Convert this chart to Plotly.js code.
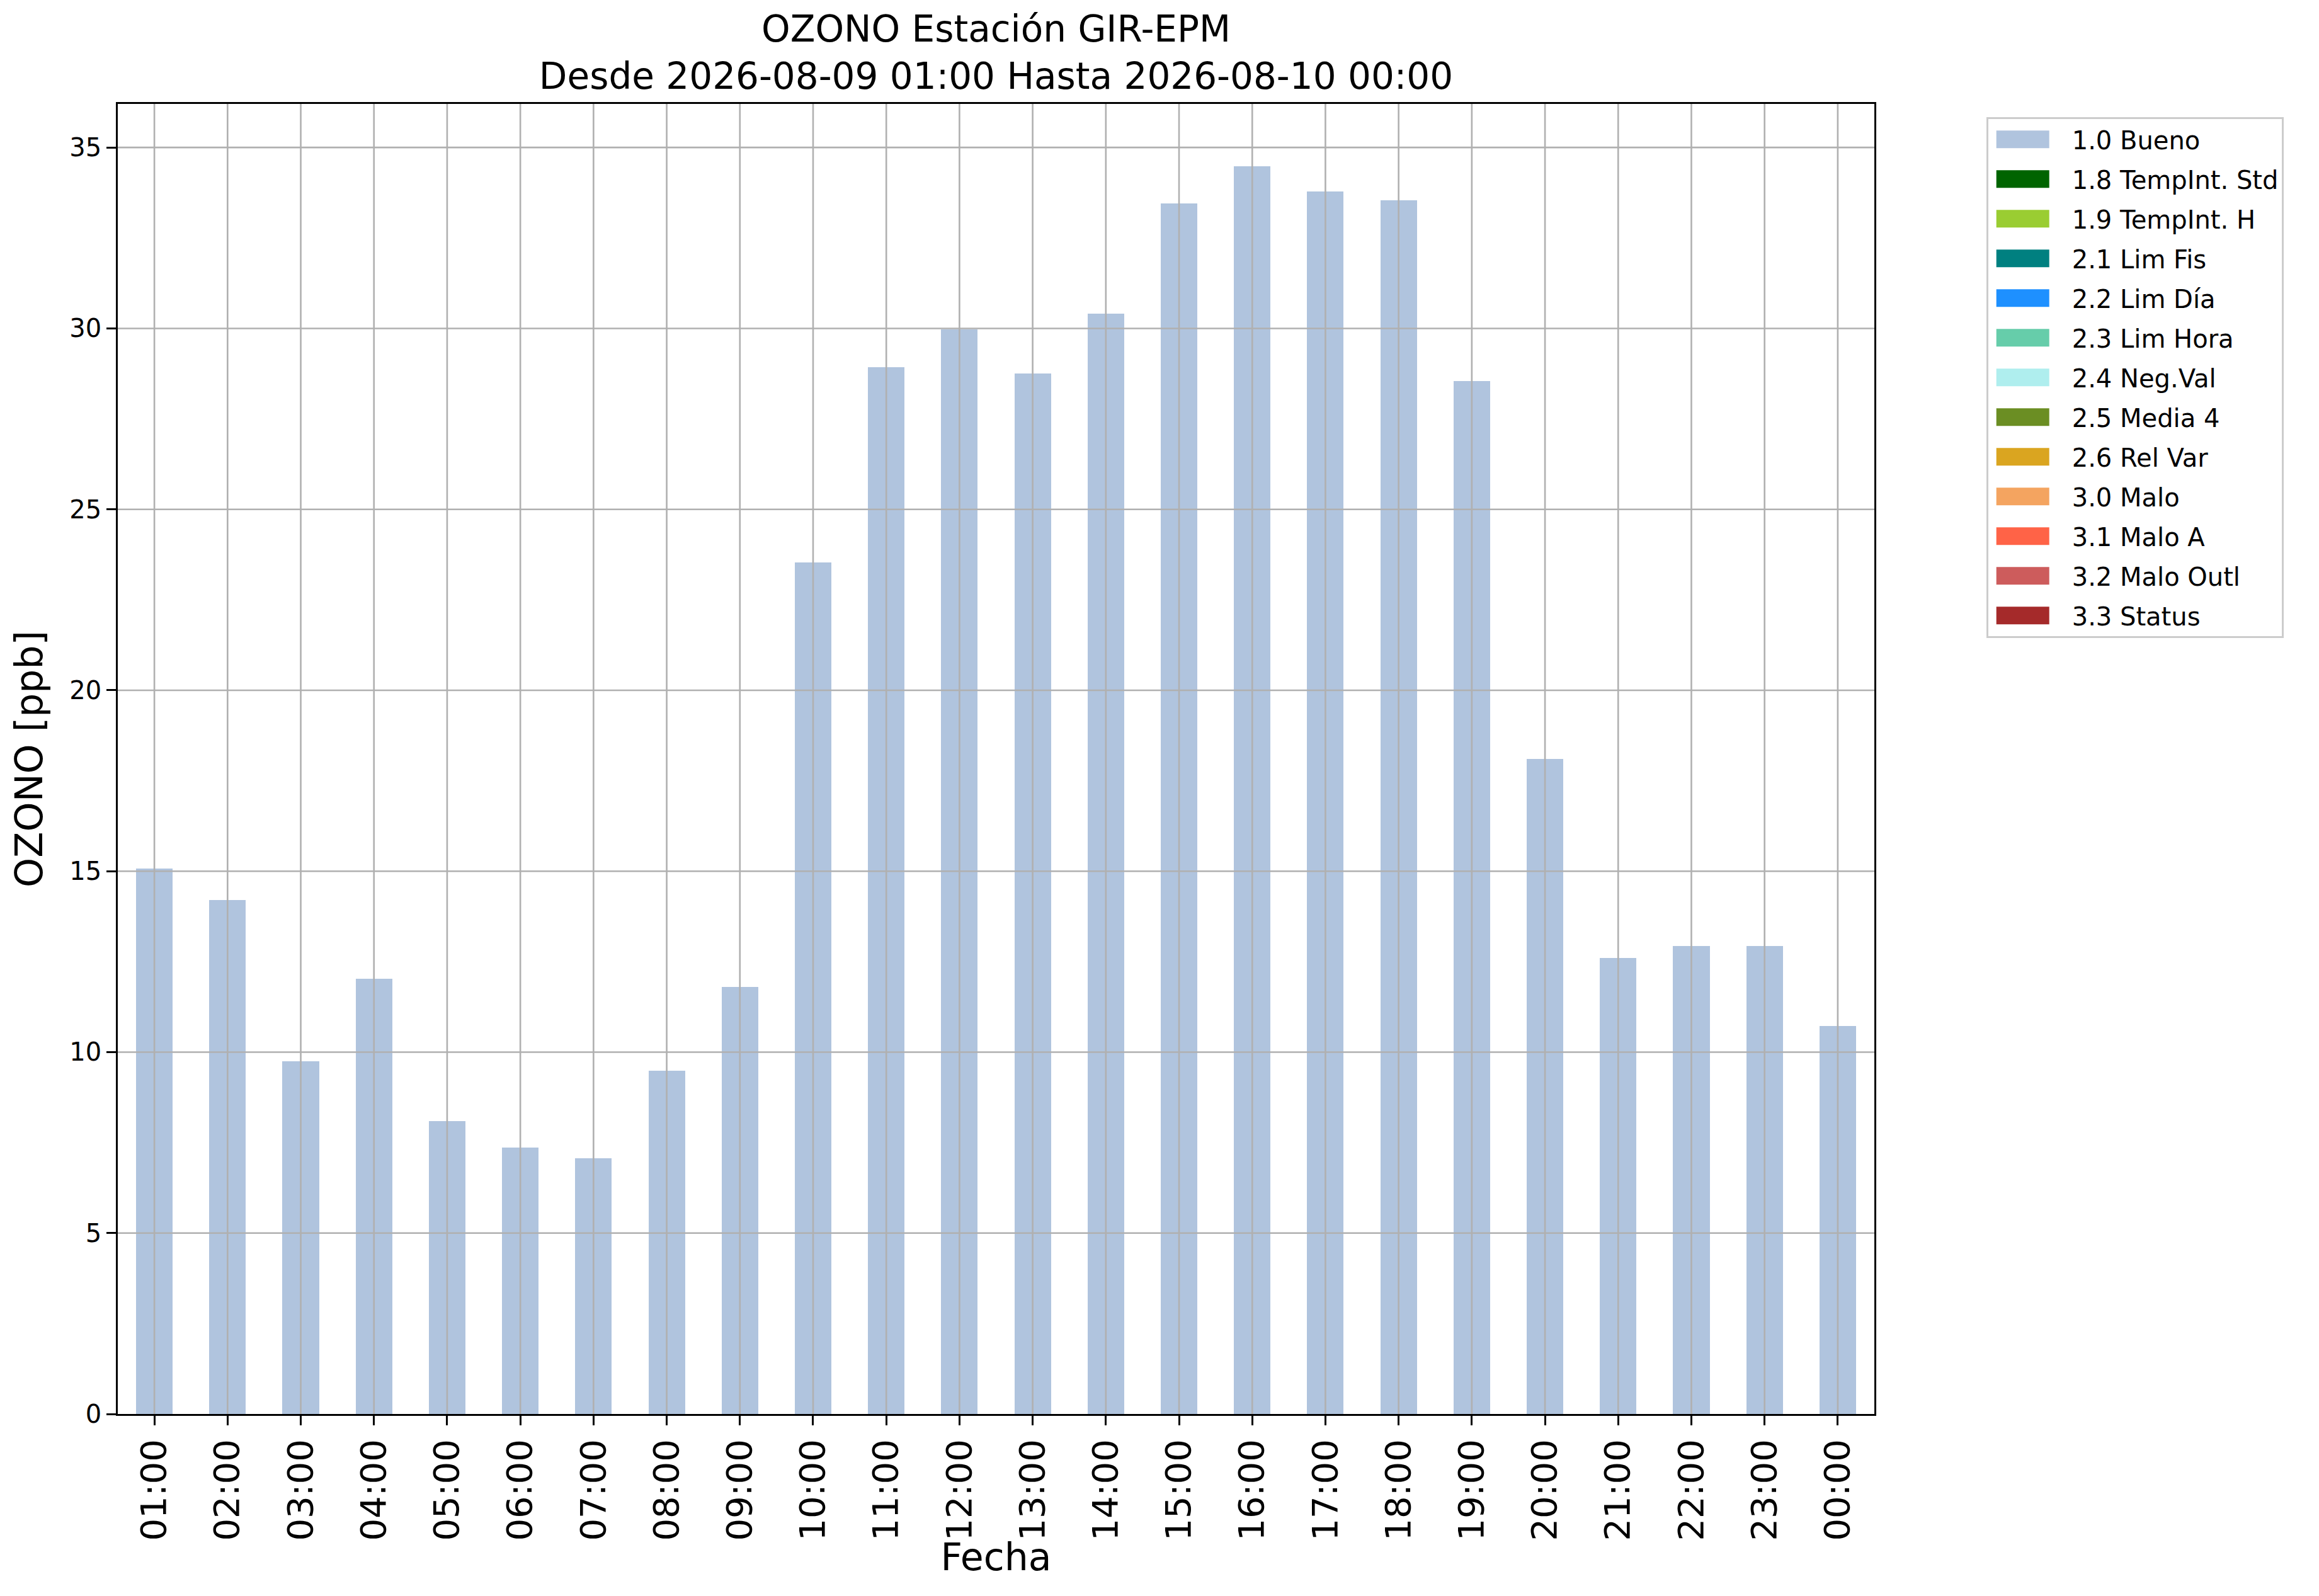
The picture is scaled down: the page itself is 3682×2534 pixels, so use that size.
<!DOCTYPE html>
<html>
<head>
<meta charset="utf-8">
<script src="https://cdn.plot.ly/plotly-3.0.1.min.js"></script>
<style>
    html, body { margin: 0; padding: 0; background: #ffffff; }
    #plot { width: 3682px; height: 2534px; }
    /* parches rectangulares en la leyenda, como los de matplotlib */
    #plot .legend .legendpoints path {
        transform: translate(55px, 0px) scale(7, 2.33);
    }
</style>
</head>
<body>
<div id="plot"></div>
<script>
// horas del periodo (categorías del eje x)
const hours = [
    "01:00", "02:00", "03:00", "04:00", "05:00", "06:00",
    "07:00", "08:00", "09:00", "10:00", "11:00", "12:00",
    "13:00", "14:00", "15:00", "16:00", "17:00", "18:00",
    "19:00", "20:00", "21:00", "22:00", "23:00", "00:00"
];

// OZONO [ppb], flag 1.0 Bueno
const ozonoBueno = [
    15.07, 14.20, 9.74, 12.02, 8.10, 7.37,
    7.07, 9.48, 11.80, 23.54, 28.93, 29.98,
    28.75, 30.41, 33.45, 34.48, 33.78, 33.54,
    28.55, 18.10, 12.61, 12.93, 12.93, 10.73
];

// las demás banderas no tienen horas marcadas en este periodo
const sinDatos = [
    0, 0, 0, 0, 0, 0, 0, 0, 0, 0, 0, 0,
    0, 0, 0, 0, 0, 0, 0, 0, 0, 0, 0, 0
];

// banderas de calidad (nombre y color de leyenda)
const flagNames = [
    "1.0 Bueno", "1.8 TempInt. Std", "1.9 TempInt. H", "2.1 Lim Fis",
    "2.2 Lim Día", "2.3 Lim Hora", "2.4 Neg.Val", "2.5 Media 4",
    "2.6 Rel Var", "3.0 Malo", "3.1 Malo A", "3.2 Malo Outl", "3.3 Status"
];
const flagColors = [
    "#B0C4DE", "#006400", "#9ACD32", "#008080",
    "#1E90FF", "#66CDAA", "#AFEEEE", "#6B8E23",
    "#DAA520", "#F4A460", "#FF6347", "#CD5C5C", "#A52A2A"
];

const flagValues = [
    ozonoBueno, sinDatos, sinDatos, sinDatos, sinDatos, sinDatos, sinDatos,
    sinDatos, sinDatos, sinDatos, sinDatos, sinDatos, sinDatos
];

const yTicks = [0, 5, 10, 15, 20, 25, 30, 35];

const font = "DejaVu Sans, Liberation Sans, sans-serif";
const gridColor = "#b0b0b0";
const lw = 2.6;

const traces = flagNames.map((name, k) => ({
    type: "bar",
    name: name,
    legendgroup: name,
    x: hours,
    y: flagValues[k],
    width: 0.5,
    marker: {color: flagColors[k], line: {width: 0}},
    hoverinfo: "x+y+name"
}));

// rejilla por encima de las barras, como en el original
const gridShapes = [];
hours.forEach(h => {
    gridShapes.push({
        type: "line", layer: "above",
        xref: "x", yref: "paper",
        x0: h, x1: h, y0: 0, y1: 1,
        line: {color: gridColor, width: lw}
    });
});
yTicks.filter(v => v > 0).forEach(v => {
    gridShapes.push({
        type: "line", layer: "above",
        xref: "paper", yref: "y",
        x0: 0, x1: 1, y0: v, y1: v,
        line: {color: gridColor, width: lw}
    });
});

const yMax = Math.max(...ozonoBueno) * 1.05;

const layout = {
    width: 3682,
    height: 2534,
    paper_bgcolor: "#ffffff",
    plot_bgcolor: "#ffffff",
    font: {family: font, color: "#000000"},
    margin: {l: 187, r: 706, t: 165, b: 289, pad: 0},
    barmode: "stack",
    showlegend: true,
    title: {
        text: "OZONO Estación GIR-EPM<br>Desde 2026-08-09 01:00 Hasta 2026-08-10 00:00",
        font: {family: font, size: 58, color: "#000000"},
        x: 0.5,
        xref: "paper",
        xanchor: "center",
        y: 1 - 66 / 2534,
        yref: "container",
        yanchor: "top"
    },
    xaxis: {
        type: "category",
        categoryorder: "array",
        categoryarray: hours,
        range: [-0.5, hours.length - 0.5],
        showgrid: false,
        zeroline: false,
        showline: true,
        mirror: true,
        linecolor: "#000000",
        linewidth: lw,
        ticks: "outside",
        ticklen: 15,
        tickwidth: lw,
        tickcolor: "#000000",
        tickangle: -90,
        tickfont: {family: font, size: 56, color: "#000000"},
        automargin: false,
        title: {
            text: "Fecha",
            font: {family: font, size: 60, color: "#000000"}
        }
    },
    yaxis: {
        range: [0, yMax],
        tickmode: "array",
        tickvals: yTicks,
        ticktext: yTicks.map(String),
        showgrid: false,
        zeroline: false,
        showline: true,
        mirror: true,
        linecolor: "#000000",
        linewidth: lw,
        ticks: "outside",
        ticklen: 15,
        tickwidth: lw,
        tickcolor: "#000000",
        tickfont: {family: font, size: 40, color: "#000000"},
        automargin: false,
        title: {
            text: "OZONO [ppb]",
            font: {family: font, size: 60, color: "#000000"},
            standoff: 24
        }
    },
    legend: {
        x: (3154 - 187) / (2976 - 187),
        xanchor: "left",
        y: (2245 - 186) / (2245 - 165),
        yanchor: "top",
        bgcolor: "#ffffff",
        bordercolor: "#cccccc",
        borderwidth: 2.7,
        font: {family: font, size: 40, color: "#000000"},
        itemwidth: 123,
        tracegroupgap: 8,
        traceorder: "grouped"
    },
    shapes: gridShapes
};

Plotly.newPlot("plot", traces, layout, {displayModeBar: false, responsive: false}).then(gd => {
    // "Fecha" un poco más cerca de las etiquetas, como en el original
    const xt = gd.querySelector(".g-xtitle text");
    if (xt) {
        xt.setAttribute("transform", "translate(0,-12)");
    }
});
</script>
</body>
</html>
